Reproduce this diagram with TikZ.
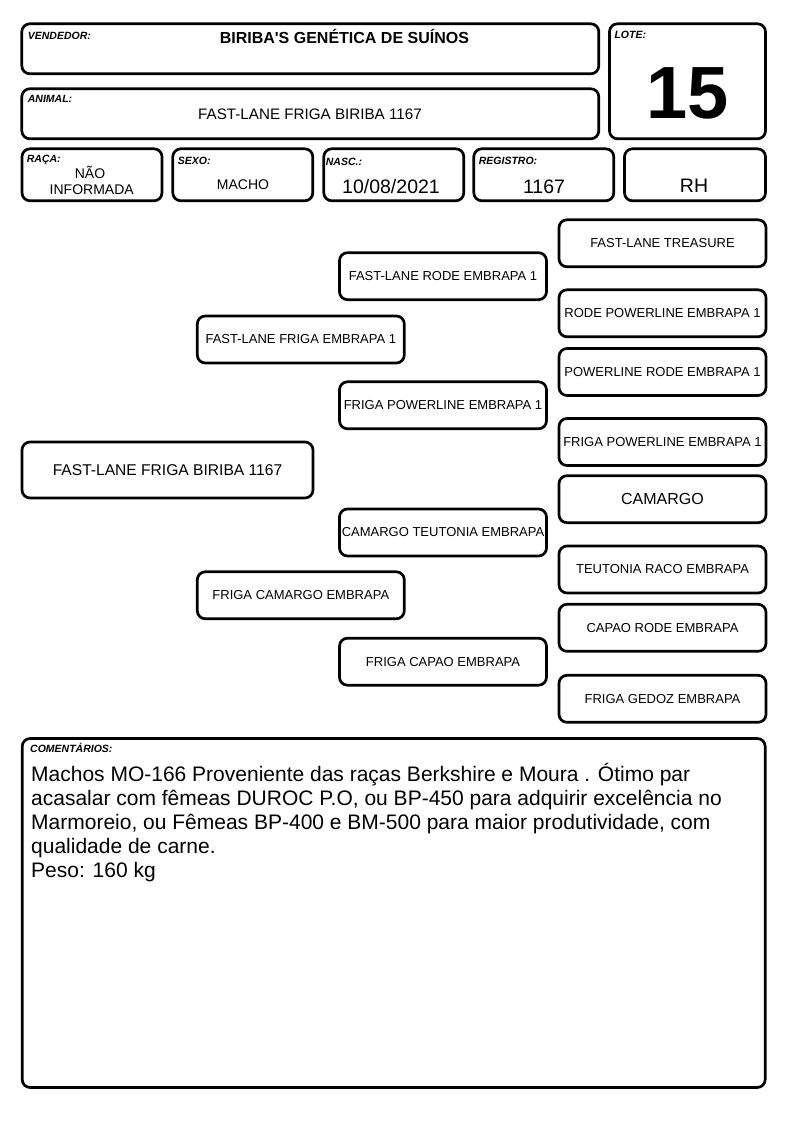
\documentclass[tikz,border=0pt]{standalone}
\usepackage{fontspec}
\setmainfont{Liberation Sans}[Ligatures=TeXOff]

\begin{document}
\begin{tikzpicture}[x=1pt,y=-1pt,
  caixa/.style={draw=black, line width=2.7pt, rounded corners=8pt, inner sep=0pt, align=center},
  rotulo/.style={anchor=base west, inner sep=0pt, font=\fontsize{10.5}{12}\selectfont\bfseries\itshape},
  valor/.style={anchor=base, inner sep=0pt, font=\fontsize{19.5}{22}\selectfont},
  gen/.style={caixa, minimum width=207pt, minimum height=47pt, font=\fontsize{13}{15}\selectfont}]
\useasboundingbox (0,0) rectangle (794,1123);
% cabecalho
\node[caixa, minimum width=577pt, minimum height=50pt] (vendedor) at (310.3,48.8) {};
\node[caixa, minimum width=577pt, minimum height=50pt] (animal) at (310.3,113.8) {};
\node[caixa, minimum width=156pt, minimum height=115pt] (lote) at (687.5,81.3) {};
\node[caixa, minimum width=140pt, minimum height=52pt] (raca) at (92,174.8) {};
\node[caixa, minimum width=140pt, minimum height=52pt] (sexo) at (242.8,174.8) {};
\node[caixa, minimum width=140pt, minimum height=52pt] (nasc) at (393.8,174.8) {};
\node[caixa, minimum width=140pt, minimum height=52pt] (registro) at (543.8,174.8) {};
\node[caixa, minimum width=141pt, minimum height=52pt] (rh) at (695,174.8) {};
\node[rotulo] (lvendedor) at (27.7,39.3) {VENDEDOR:};
\node[rotulo] (lanimal) at (27.7,102.7) {ANIMAL:};
\node[rotulo] (llote) at (614.3,39) {LOTE:};
\node[rotulo] (lraca) at (26.7,162.7) {RAÇA:};
\node[rotulo] (lsexo) at (177.7,165) {SEXO:};
\node[rotulo] (lnasc) at (325.7,165.5) {NASC.:};
\node[rotulo] (lregistro) at (478.7,165) {REGISTRO:};
\node[anchor=base, inner sep=0pt, font=\fontsize{16}{18}\selectfont\bfseries] (tvendedor) at (344.4,43.3) {BIRIBA'S GENÉTICA DE SUÍNOS};
\node[anchor=base, inner sep=0pt, font=\fontsize{15.2}{18}\selectfont] (tanimal) at (310,119.3) {FAST-LANE FRIGA BIRIBA 1167};
\node[anchor=base, inner sep=0pt, font=\fontsize{74}{80}\selectfont\bfseries] (tlote) at (688,118.3) {15};
\node[anchor=base, inner sep=0pt, font=\fontsize{14}{16}\selectfont] (traca1) at (90,178.3) {NÃO};
\node[anchor=base, inner sep=0pt, font=\fontsize{14}{16}\selectfont] (traca2) at (91.7,195) {INFORMADA};
\node[anchor=base, inner sep=0pt, font=\fontsize{14}{16}\selectfont] (tsexo) at (243,189.3) {MACHO};
\node[valor] (tnasc) at (391,193.3) {10/08/2021};
\node[valor] (tregistro) at (544,193.3) {1167};
\node[valor] (trh) at (694,192.7) {RH};
% genealogia
\node[caixa, minimum width=291pt, minimum height=56pt, font=\fontsize{15.6}{18}\selectfont] (filho) at (167.5,470) {FAST-LANE FRIGA BIRIBA 1167};
\node[gen] (pai) at (300.8,339.5) {FAST-LANE FRIGA EMBRAPA 1};
\node[gen] (mae) at (300.8,595.3) {FRIGA CAMARGO EMBRAPA};
\node[gen] (avo1) at (443,276.2) {FAST-LANE RODE EMBRAPA 1};
\node[gen] (avo2) at (443,405.3) {FRIGA POWERLINE EMBRAPA 1};
\node[gen] (avo3) at (443,532.5) {CAMARGO TEUTONIA EMBRAPA};
\node[gen] (avo4) at (443,661.7) {FRIGA CAPAO EMBRAPA};
\node[gen] (bis1) at (662.5,243.3) {FAST-LANE TREASURE};
\node[gen] (bis2) at (662.5,313.3) {RODE POWERLINE EMBRAPA 1};
\node[gen] (bis3) at (662.5,372) {POWERLINE RODE EMBRAPA 1};
\node[gen] (bis4) at (662.5,442) {FRIGA POWERLINE EMBRAPA 1};
\node[gen, font=\fontsize{16}{18}\selectfont] (bis5) at (662.5,499.2) {CAMARGO};
\node[gen] (bis6) at (662.5,569.5) {TEUTONIA RACO EMBRAPA};
\node[gen] (bis7) at (662.5,627.8) {CAPAO RODE EMBRAPA};
\node[gen] (bis8) at (662.5,698.8) {FRIGA GEDOZ EMBRAPA};
% comentarios
\node[caixa, minimum width=743pt, minimum height=349pt] (comentarios) at (393.7,913) {};
\node[rotulo] (lcomentarios) at (30,752.7) {COMENTÁRIOS:};
\node[anchor=base west, inner sep=0pt, align=left, font=\fontsize{21}{24}\selectfont] (tcomentarios) at (31,877.5) {Machos MO-166 Proveniente das raças Berkshire e Moura . Ótimo par\\acasalar com fêmeas DUROC P.O, ou BP-450 para adquirir excelência no\\Marmoreio, ou Fêmeas BP-400 e BM-500 para maior produtividade, com\\qualidade de carne.\\Peso: 160 kg};
\end{tikzpicture}
\end{document}
